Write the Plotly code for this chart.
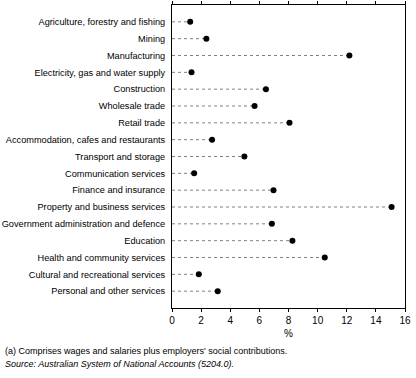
import plotly.graph_objects as go

industries = [
    "Agriculture, forestry and fishing",
    "Mining",
    "Manufacturing",
    "Electricity, gas and water supply",
    "Construction",
    "Wholesale trade",
    "Retail trade",
    "Accommodation, cafes and restaurants",
    "Transport and storage",
    "Communication services",
    "Finance and insurance",
    "Property and business services",
    "Government administration and defence",
    "Education",
    "Health and community services",
    "Cultural and recreational services",
    "Personal and other services",
]
values = [1.25, 2.36, 12.18, 1.34, 6.45, 5.67, 8.07, 2.75, 4.97, 1.52,
          6.97, 15.08, 6.86, 8.27, 10.49, 1.84, 3.14]
x_ticks = [0, 2, 4, 6, 8, 10, 12, 14, 16]

FONT = "Liberation Sans, Arial, sans-serif"

# dashed leader lines from 0 to each value
lx, ly = [], []
for cat, v in zip(industries, values):
    lx += [0, v, None]
    ly += [cat, cat, None]

fig = go.Figure()
fig.add_trace(go.Scatter(
    x=lx, y=ly, mode="lines",
    line=dict(color="#808080", width=1, dash="3px,3px"),
    hoverinfo="skip", showlegend=False,
))
fig.add_trace(go.Scatter(
    x=values, y=industries, mode="markers",
    marker=dict(symbol="circle", size=6, color="black"),
    showlegend=False,
))

fig.update_layout(
    width=416, height=378,
    margin=dict(l=172, r=11, t=5, b=70, autoexpand=False),
    paper_bgcolor="white", plot_bgcolor="white",
    font=dict(family=FONT, size=9.2, color="black"),
    xaxis=dict(
        range=[0, 16], tickvals=x_ticks, ticktext=[str(t) for t in x_ticks],
        showgrid=False, zeroline=False, automargin=False,
        showline=True, linecolor="black", linewidth=1, mirror="ticks",
        ticks="outside", ticklen=3, tickcolor="black", tickwidth=1,
        tickfont=dict(size=10),
        title=dict(text="%", font=dict(size=10), standoff=4),
    ),
    yaxis=dict(
        type="category", categoryorder="array", categoryarray=industries,
        range=[17, -1], automargin=False,
        showgrid=False, zeroline=False,
        showline=True, linecolor="black", linewidth=1, mirror=True,
        ticks="", ticklabelstandoff=4,
    ),
    annotations=[
        dict(text="(a) Comprises wages and salaries plus employers' social contributions.",
             xref="paper", yref="paper", x=-169/233, y=-43/302.7, xanchor="left",
             yanchor="middle", showarrow=False, font=dict(size=9)),
        dict(text="<i>Source: Australian System of National Accounts (5204.0).</i>",
             xref="paper", yref="paper", x=-169/233, y=-56/302.7, xanchor="left",
             yanchor="middle", showarrow=False, font=dict(size=9)),
    ],
)

fig.write_html(
    "out.html",
    config={"displayModeBar": False},
    post_script="document.body.style.margin='0';document.body.style.overflow='hidden';",
)
